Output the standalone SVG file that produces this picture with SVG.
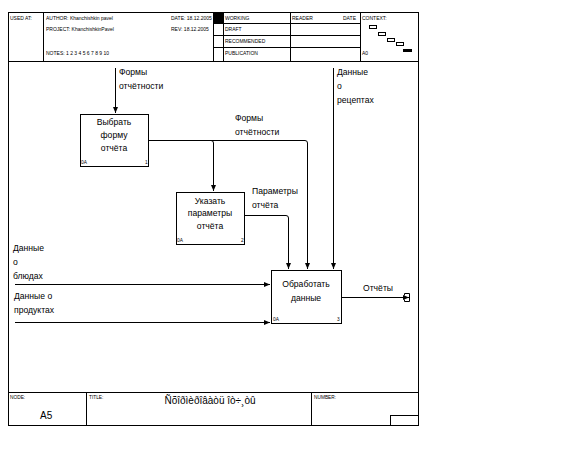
<svg xmlns="http://www.w3.org/2000/svg" width="580" height="461" viewBox="0 0 580 461">
<defs>
<style>
.f{fill:none;stroke:#000;stroke-width:1}
.t{font-family:"Liberation Sans Narrow","Liberation Sans",Arial,sans-serif;font-size:8.6px;fill:#000}
.h{font-family:"Liberation Sans Narrow","Liberation Sans",Arial,sans-serif;font-size:5px;fill:#000}
.s{font-family:"Liberation Sans Narrow","Liberation Sans",Arial,sans-serif;font-size:4.8px;fill:#000}
.c{text-anchor:middle}
.box{fill:#fff;stroke:#000;stroke-width:1}
.ln{fill:none;stroke:#000;stroke-width:1}
</style>
<marker id="ah" viewBox="0 0 6 6" refX="6" refY="3" markerWidth="6" markerHeight="6" markerUnits="userSpaceOnUse" orient="auto">
<path d="M0,0.5 L6,3 L0,5.5 Z" fill="#000"/>
</marker>
</defs>
<rect width="580" height="461" fill="#fff"/>
<g id="frame">
<rect class="f" x="8.5" y="12.5" width="410" height="413"/>
<line class="f" x1="8.5" y1="61.5" x2="418.5" y2="61.5"/>
<line class="f" x1="43.5" y1="12.5" x2="43.5" y2="61.5"/>
<line class="f" x1="213.5" y1="12.5" x2="213.5" y2="61.5"/>
<line class="f" x1="223.5" y1="12.5" x2="223.5" y2="61.5"/>
<line class="f" x1="290.5" y1="12.5" x2="290.5" y2="61.5"/>
<line class="f" x1="360.5" y1="12.5" x2="360.5" y2="61.5"/>
<line class="f" x1="213.5" y1="23.5" x2="360.5" y2="23.5"/>
<line class="f" x1="213.5" y1="35.5" x2="360.5" y2="35.5"/>
<line class="f" x1="213.5" y1="47.5" x2="360.5" y2="47.5"/>
<rect x="214" y="13" width="9" height="10" fill="#000"/>
<text class="h" x="10" y="20">USED AT:</text>
<text class="h" x="46" y="20">AUTHOR: Khanchishkin pavel</text>
<text class="h" x="46" y="31">PROJECT: KhanchishkinPavel</text>
<text class="h" x="46" y="55">NOTES: 1 2 3 4 5 6 7 8 9 10</text>
<text class="h" x="171" y="20">DATE: 18.12.2005</text>
<text class="h" x="171" y="31">REV: 18.12.2005</text>
<text class="h" x="225" y="20">WORKING</text>
<text class="h" x="225" y="31">DRAFT</text>
<text class="h" x="225" y="43">RECOMMENDED</text>
<text class="h" x="225" y="55">PUBLICATION</text>
<text class="h" x="292" y="20">READER</text>
<text class="h" x="343" y="20">DATE</text>
<text class="h" x="362" y="20">CONTEXT:</text>
<text class="h" x="362" y="55">A0</text>
<rect class="f" x="369.5" y="25.5" width="7" height="3"/>
<rect class="f" x="378.5" y="32.5" width="7" height="3"/>
<rect class="f" x="387.5" y="38.5" width="7" height="3"/>
<rect class="f" x="396.5" y="42.5" width="7" height="3"/>
<rect x="403" y="49" width="9" height="3" fill="#000"/>
<line class="f" x1="8.5" y1="392.5" x2="418.5" y2="392.5"/>
<line class="f" x1="86.5" y1="392.5" x2="86.5" y2="425.5"/>
<line class="f" x1="311.5" y1="392.5" x2="311.5" y2="425.5"/>
<rect class="f" x="390.5" y="415.5" width="28" height="10"/>
<text class="s" x="10" y="399">NODE:</text>
<text class="t" x="40" y="419" style="font-size:10px">A5</text>
<text class="s" x="89" y="399">TITLE:</text>
<text class="t c" x="210" y="404" style="font-size:10px">Ñõîðìèðîâàòü îò÷¸òû</text>
<text class="s" x="314" y="399">NUMBER:</text>
</g>
<g id="connectors">
<path class="ln" d="M115.5,68 V113" marker-end="url(#ah)"/>
<text class="t" x="119" y="75">Формы</text>
<text class="t" x="119" y="89">отчётности</text>
<path class="ln" d="M148,140.5 H211 Q213.5,140.5 213.5,143 V191" marker-end="url(#ah)"/>
<path class="ln" d="M211,140.5 H305 Q307.5,140.5 307.5,143 V269" marker-end="url(#ah)"/>
<text class="t" x="235" y="121">Формы</text>
<text class="t" x="235" y="135">отчётности</text>
<path class="ln" d="M244,215.5 H286 Q288.5,215.5 288.5,218 V269" marker-end="url(#ah)"/>
<text class="t" x="252" y="194">Параметры</text>
<text class="t" x="252" y="208">отчёта</text>
<path class="ln" d="M333.5,68 V269" marker-end="url(#ah)"/>
<text class="t" x="337" y="75">Данные</text>
<text class="t" x="337" y="89">о</text>
<text class="t" x="337" y="103">рецептах</text>
<path class="ln" d="M15,284.5 H270" marker-end="url(#ah)"/>
<text class="t" x="13" y="251">Данные</text>
<text class="t" x="13" y="265">о</text>
<text class="t" x="13" y="279">блюдах</text>
<path class="ln" d="M15,322.5 H270" marker-end="url(#ah)"/>
<text class="t" x="14" y="299">Данные о</text>
<text class="t" x="14" y="313">продуктах</text>
<path class="ln" d="M341,297.5 H409" marker-end="url(#ah)"/>
<path class="ln" d="M404.5,295.5 V293.5 H409.5 V301.5 H404.5 V299.5"/>
<text class="t" x="363" y="291">Отчёты</text>
</g>
<g id="node1">
<rect class="box" x="80.5" y="114.5" width="68" height="52"/>
<text class="t c" x="114" y="125">Выбрать</text>
<text class="t c" x="114" y="138">форму</text>
<text class="t c" x="114" y="151">отчёта</text>
<text class="s" x="81" y="164">0A</text>
<text class="s" x="145" y="164">1</text>
</g>
<g id="node2">
<rect class="box" x="176.5" y="192.5" width="68" height="52"/>
<text class="t c" x="210" y="204">Указать</text>
<text class="t c" x="210" y="216">параметры</text>
<text class="t c" x="210" y="229">отчёта</text>
<text class="s" x="177" y="242">0A</text>
<text class="s" x="241" y="242">2</text>
</g>
<g id="node3">
<rect class="box" x="271.5" y="270.5" width="70" height="53"/>
<text class="t c" x="306" y="287">Обработать</text>
<text class="t c" x="306" y="301">данные</text>
<text class="s" x="273" y="321">0A</text>
<text class="s" x="337" y="321">3</text>
</g>
</svg>
